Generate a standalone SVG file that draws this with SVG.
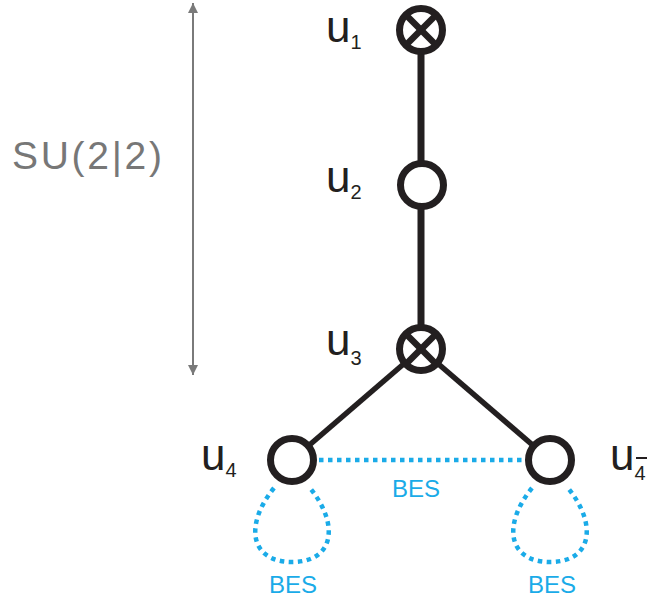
<svg xmlns="http://www.w3.org/2000/svg" width="649" height="607" viewBox="0 0 649 607">
<defs>
<style>
.node{fill:#fff;stroke:#231f20;stroke-width:7}
.cross{stroke:#231f20;stroke-width:6.5}
.edge{stroke:#231f20;fill:none}
.bes{stroke:#1aabe8;stroke-width:4.5;stroke-dasharray:4.5 4.5;fill:none}
.lbl{font-family:"Liberation Sans",Arial,sans-serif;fill:#231f20}
.blbl{font-family:"Liberation Sans",Arial,sans-serif;fill:#1aabe8;font-size:24px;text-anchor:middle}
</style>
<marker id="ah" viewBox="0 0 10 10" refX="10" refY="5" markerWidth="5" markerHeight="7" markerUnits="strokeWidth" orient="auto-start-reverse">
<path d="M0,0 L10,5 L0,10 z" fill="#7a7a7a"/>
</marker>
</defs>
<rect width="649" height="607" fill="#fff"/>
<g id="range">
<line x1="193" y1="3" x2="193" y2="375" stroke="#7a7a7a" stroke-width="2" marker-start="url(#ah)" marker-end="url(#ah)"/>
<text x="12" y="169" font-family="'Liberation Sans',Arial,sans-serif" font-size="39" fill="#777" textLength="150" lengthAdjust="spacing">SU(2|2)</text>
</g>
<g id="connectors">
<line class="edge" x1="421" y1="30" x2="421" y2="349" stroke-width="7"/>
<line class="edge" x1="421" y1="349" x2="292" y2="460" stroke-width="5.5"/>
<line class="edge" x1="421" y1="349" x2="550" y2="460" stroke-width="5.5"/>
<line class="bes" x1="319" y1="460" x2="524" y2="460"/>
<path class="bes" d="M274,488 C244,525 250,562 292,562 C334,562 340,525 310,488"/>
<path class="bes" d="M532,488 C502,525 508,562 550,562 C592,562 598,525 568,488"/>
<text class="blbl" x="416" y="497">BES</text>
<text class="blbl" x="293" y="593">BES</text>
<text class="blbl" x="552" y="593">BES</text>
</g>
<g id="u1">
<circle class="node" cx="421" cy="30" r="21.5"/>
<line class="cross" x1="406" y1="15" x2="436" y2="45"/>
<line class="cross" x1="436" y1="15" x2="406" y2="45"/>
<text class="lbl" x="326" y="42" font-size="44">u<tspan font-size="20" dy="7">1</tspan></text>
</g>
<g id="u2">
<circle class="node" cx="422" cy="185" r="21.5"/>
<text class="lbl" x="326" y="192" font-size="44">u<tspan font-size="20" dy="7">2</tspan></text>
</g>
<g id="u3">
<circle class="node" cx="421" cy="349" r="21.5"/>
<line class="cross" x1="406" y1="334" x2="436" y2="364"/>
<line class="cross" x1="436" y1="334" x2="406" y2="364"/>
<text class="lbl" x="326" y="355" font-size="44">u<tspan font-size="20" dy="10">3</tspan></text>
</g>
<g id="u4">
<circle class="node" cx="292" cy="460" r="21.5"/>
<text class="lbl" x="201" y="470" font-size="44">u<tspan font-size="20" dy="7">4</tspan></text>
</g>
<g id="u4bar">
<circle class="node" cx="550" cy="460" r="21.5"/>
<text class="lbl" x="610" y="470" font-size="44">u<tspan font-size="20" dy="10">4</tspan></text>
<line x1="636" y1="458" x2="647" y2="458" stroke="#231f20" stroke-width="2"/>
</g>
</svg>
